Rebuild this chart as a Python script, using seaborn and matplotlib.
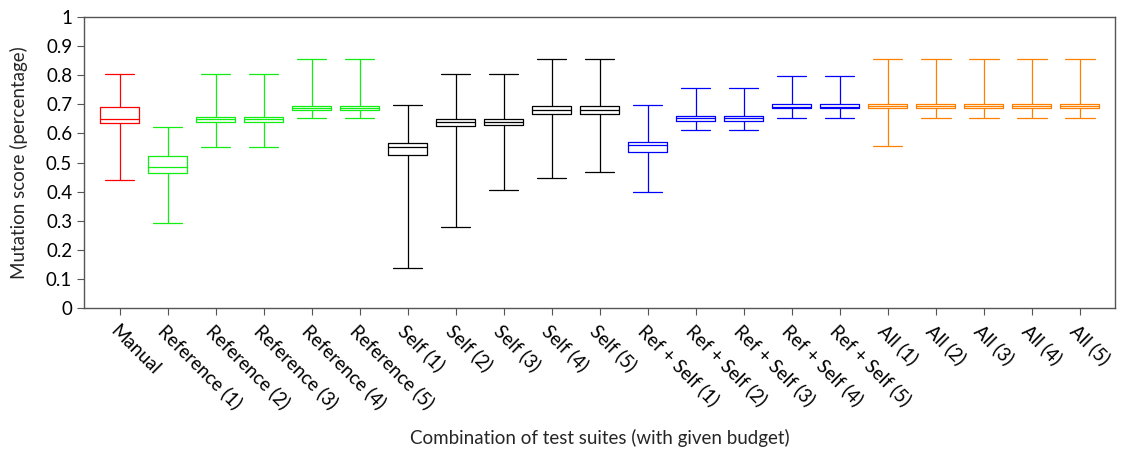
import numpy as np
import pandas as pd
import matplotlib
matplotlib.use("Agg")
import matplotlib.pyplot as plt
import seaborn as sns

categories = ["Manual",
              "Reference (1)", "Reference (2)", "Reference (3)", "Reference (4)", "Reference (5)",
              "Self (1)", "Self (2)", "Self (3)", "Self (4)", "Self (5)",
              "Ref + Self (1)", "Ref + Self (2)", "Ref + Self (3)", "Ref + Self (4)", "Ref + Self (5)",
              "All (1)", "All (2)", "All (3)", "All (4)", "All (5)"]
groups = ["Manual"] + ["Reference"] * 5 + ["Self"] * 5 + ["RefSelf"] * 5 + ["All"] * 5

whisker_low = [0.440, 0.292, 0.552, 0.552, 0.654, 0.654,
               0.137, 0.277, 0.404, 0.446, 0.466,
               0.399, 0.613, 0.613, 0.654, 0.654,
               0.556, 0.654, 0.654, 0.654, 0.654]
q1 = [0.636, 0.463, 0.639, 0.639, 0.680, 0.680,
      0.526, 0.624, 0.629, 0.668, 0.668,
      0.535, 0.641, 0.641, 0.686, 0.686,
      0.686, 0.686, 0.686, 0.686, 0.686]
median = [0.649, 0.483, 0.648, 0.648, 0.688, 0.688,
          0.552, 0.639, 0.640, 0.680, 0.680,
          0.561, 0.652, 0.652, 0.692, 0.692,
          0.693, 0.693, 0.693, 0.693, 0.693]
q3 = [0.692, 0.522, 0.657, 0.657, 0.695, 0.695,
      0.568, 0.651, 0.651, 0.693, 0.693,
      0.572, 0.661, 0.661, 0.700, 0.700,
      0.700, 0.700, 0.700, 0.700, 0.700]
whisker_high = [0.805, 0.623, 0.805, 0.805, 0.855, 0.855,
                0.696, 0.805, 0.805, 0.855, 0.855,
                0.696, 0.755, 0.755, 0.798, 0.798,
                0.855, 0.855, 0.855, 0.855, 0.855]

group_colors = {"Manual": "#ff0000", "Reference": "#11ee11", "Self": "#000000",
                "RefSelf": "#0000ff", "All": "#ff8000"}

rows = []
for i, c in enumerate(categories):
    for v in (whisker_low[i], q1[i], median[i], q3[i], whisker_high[i]):
        rows.append({"suite": c, "score": v})
df = pd.DataFrame(rows)
palette = {c: group_colors[g] for c, g in zip(categories, groups)}

sns.set_theme(style="ticks")
plt.rcParams["font.family"] = ["Lato", "DejaVu Sans"]

fig = plt.figure(figsize=(11.22, 4.51), dpi=100)
ax = fig.add_axes([0.0749, 0.317, 0.919, 0.6453])

sns.boxplot(data=df, x="suite", y="score", hue="suite", order=categories,
            hue_order=categories, palette=palette, fill=False, whis=(0, 100),
            showfliers=False, width=0.8, linewidth=0.9, legend=False,
            dodge=False, capwidths=0.62, ax=ax)

ax.set_xlim(-0.74, 20.74)
ax.set_ylim(0, 1)
ax.set_yticks(np.arange(0, 1.01, 0.1))
ax.set_yticklabels(["0"] + [f"{v:.1f}" for v in np.arange(0.1, 0.95, 0.1)] + ["1"])
ax.set_xticks(range(len(categories)))
ax.set_xticklabels(categories, rotation=-45, ha="left", rotation_mode="anchor")
ax.tick_params(axis="both", labelsize=13.5, length=5, width=0.8, colors="#555555",
               labelcolor="black", direction="out")
ax.tick_params(axis="x", pad=5)
for s in ax.spines.values():
    s.set_visible(True)
    s.set_color("#555555")
    s.set_linewidth(1.0)
ax.set_xlabel("Combination of test suites (with given budget)", fontsize=13.5)
ax.set_ylabel("Mutation score (percentage)", fontsize=13.5)
ax.xaxis.set_label_coords(0.5, -0.415)
ax.yaxis.set_label_coords(-0.054, 0.5)

fig.savefig("out.png", dpi=100)
